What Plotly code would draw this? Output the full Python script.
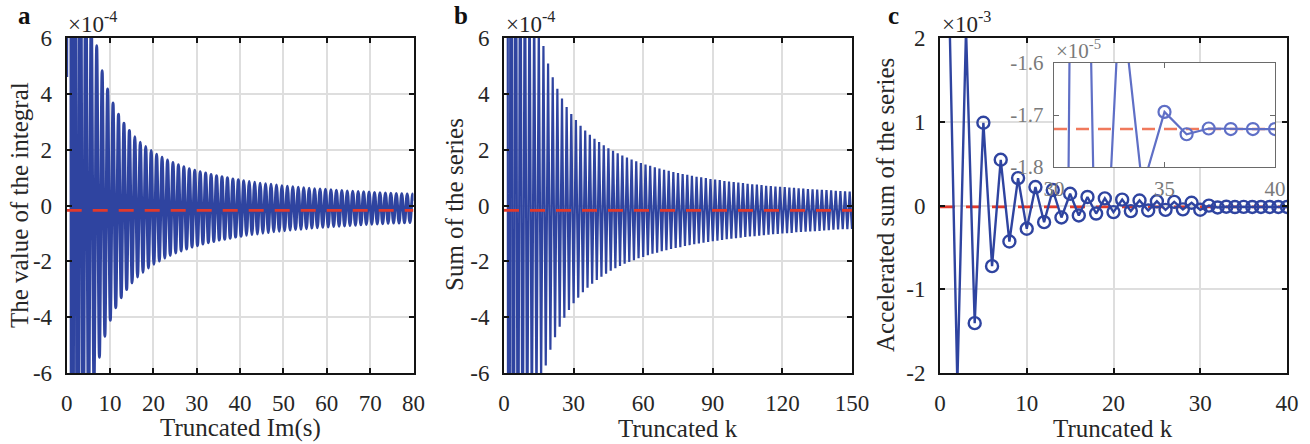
import plotly.graph_objects as go

# ---------------- DATA ----------------
# Panel a: truncated integral vs Im(s); extrema of the oscillation (units of 1e-4)
im_s_start, value_start = 0.0, 4.6
im_s_first_extremum = 0.637
im_s_half_period = 0.6283
integral_upper = [63.2, 21.2, 12.7, 9.04, 7.02, 5.72, 4.83, 4.17, 3.67, 3.27,
                  2.95, 2.69, 2.46, 2.27, 2.11, 1.97, 1.84, 1.73, 1.63, 1.54,
                  1.46, 1.39, 1.32, 1.26, 1.21, 1.16, 1.11, 1.07, 1.03, 0.99,
                  0.95, 0.92, 0.89, 0.86, 0.83, 0.80, 0.78, 0.76, 0.73, 0.71,
                  0.69, 0.67, 0.65, 0.64, 0.62, 0.60, 0.59, 0.58, 0.56, 0.55,
                  0.54, 0.52, 0.51, 0.50, 0.49, 0.48, 0.47, 0.46, 0.45, 0.44,
                  0.43, 0.42, 0.41, 0.41]
integral_lower = [-32.0, -16.1, -10.8, -8.10, -6.51, -5.44, -4.68, -4.11, -3.66, -3.30,
                  -3.01, -2.77, -2.56, -2.39, -2.24, -2.10, -1.99, -1.88, -1.79, -1.70,
                  -1.63, -1.56, -1.49, -1.44, -1.38, -1.33, -1.29, -1.24, -1.21, -1.17,
                  -1.13, -1.10, -1.07, -1.04, -1.02, -0.99, -0.97, -0.94, -0.92, -0.90,
                  -0.88, -0.86, -0.85, -0.83, -0.81, -0.80, -0.78, -0.77, -0.75, -0.74,
                  -0.73, -0.72, -0.71, -0.69, -0.68, -0.67, -0.66, -0.65, -0.64, -0.63,
                  -0.63, -0.62, -0.61]
im_s_end, value_end = 80.0, 0.17

# Panel b: partial sums of the series (units of 1e-4), odd k and even k
series_odd_k = [99.83, 33.16, 19.83, 14.12, 10.94, 8.92, 7.52, 6.50, 5.71, 5.09,
                4.59, 4.18, 3.83, 3.53, 3.28, 3.06, 2.86, 2.69, 2.53, 2.39,
                2.27, 2.16, 2.05, 1.96, 1.87, 1.79, 1.72, 1.65, 1.58, 1.52,
                1.47, 1.42, 1.37, 1.32, 1.28, 1.24, 1.20, 1.16, 1.13, 1.10,
                1.06, 1.03, 1.01, 0.98, 0.95, 0.93, 0.91, 0.88, 0.86, 0.84,
                0.82, 0.80, 0.78, 0.76, 0.75, 0.73, 0.71, 0.70, 0.68, 0.67,
                0.66, 0.64, 0.63, 0.62, 0.61, 0.59, 0.58, 0.57, 0.56, 0.55,
                0.54, 0.53, 0.52, 0.51, 0.50]
series_even_k = [-50.17, -25.17, -16.84, -12.67, -10.17, -8.50, -7.31, -6.42, -5.73, -5.17,
                 -4.72, -4.34, -4.02, -3.74, -3.50, -3.30, -3.11, -2.95, -2.80, -2.67,
                 -2.55, -2.44, -2.34, -2.25, -2.17, -2.09, -2.02, -1.96, -1.89, -1.84,
                 -1.78, -1.73, -1.69, -1.64, -1.60, -1.56, -1.52, -1.49, -1.45, -1.42,
                 -1.39, -1.36, -1.33, -1.31, -1.28, -1.26, -1.23, -1.21, -1.19, -1.17,
                 -1.15, -1.13, -1.11, -1.10, -1.08, -1.06, -1.05, -1.03, -1.02, -1.00,
                 -0.99, -0.98, -0.96, -0.95, -0.94, -0.93, -0.92, -0.91, -0.89, -0.88,
                 -0.87, -0.86, -0.85, -0.85, -0.84]

# Panel c: accelerated sums (units of 1e-3), k = 1..40
accel_k = list(range(1, 41))
accel_sum = [2.7, -2.12, 2.1, -1.405, 0.988, -0.724, 0.546, -0.43, 0.327, -0.278,
             0.22, -0.199, 0.185, -0.143, 0.14, -0.119, 0.102, -0.096, 0.085, -0.079,
             0.07, -0.067, 0.06, -0.06, 0.05, -0.052, 0.043, -0.046, 0.033, -0.051,
             -0.001, -0.023, -0.0145, -0.0184, -0.01694, -0.01737, -0.01726, -0.01727,
             -0.01727, -0.01727]

limit_value = -1.727e-5

# tick labels
ticks_a_x = [0, 10, 20, 30, 40, 50, 60, 70, 80]
ticks_b_x = [0, 30, 60, 90, 120, 150]
ticks_c_x = [0, 10, 20, 30, 40]
ticks_ab_y = [-6, -4, -2, 0, 2, 4, 6]
ticks_c_y = [-2, -1, 0, 1, 2]
ticks_in_x = [30, 35, 40]
ticks_in_y = [-1.8, -1.7, -1.6]

# ---------------- BUILD ----------------
n_ext = len(integral_upper) + len(integral_lower)
a_x = [im_s_start] + [round(im_s_first_extremum + im_s_half_period * j, 3) for j in range(n_ext)] + [im_s_end]
a_y = [value_start]
for j in range(n_ext):
    a_y.append(integral_upper[j // 2] if j % 2 == 0 else integral_lower[j // 2])
a_y.append(value_end)

b_k = list(range(1, 151))
b_y = []
for k in b_k:
    b_y.append(series_odd_k[(k - 1) // 2] if k % 2 == 1 else series_even_k[k // 2 - 1])

BLUE = "#2f44a0"
RED = "#e1392b"
FONT = "Liberation Serif"
W, H = 1310, 444
TICK_SIZE = 23
TITLE_SIZE = 25

fig = go.Figure()

fig.add_trace(go.Scatter(x=a_x, y=a_y, mode="lines", line=dict(color=BLUE, width=3, shape="spline"),
                         xaxis="x", yaxis="y", hoverinfo="skip"))
fig.add_trace(go.Scatter(x=[0, 80], y=[limit_value * 1e4] * 2, mode="lines",
                         line=dict(color=RED, width=2.8, dash="15px,11px"), xaxis="x", yaxis="y"))

fig.add_trace(go.Scatter(x=b_k, y=b_y, mode="lines", line=dict(color=BLUE, width=2.2),
                         xaxis="x2", yaxis="y2", hoverinfo="skip"))
fig.add_trace(go.Scatter(x=[0, 150], y=[limit_value * 1e4] * 2, mode="lines",
                         line=dict(color=RED, width=2.8, dash="15px,11px"), xaxis="x2", yaxis="y2"))

fig.add_trace(go.Scatter(x=[0, 40], y=[limit_value * 1e3] * 2, mode="lines",
                         line=dict(color=RED, width=2.8, dash="15px,11px"), xaxis="x3", yaxis="y3"))
fig.add_trace(go.Scatter(x=accel_k, y=accel_sum, mode="lines+markers",
                         line=dict(color=BLUE, width=2.4),
                         marker=dict(symbol="circle-open", size=12, color=BLUE, line=dict(width=2.4)),
                         xaxis="x3", yaxis="y3"))

INSET_BLUE = "#5f6fc6"
fig.add_trace(go.Scatter(x=[30, 40], y=[limit_value * 1e5] * 2, mode="lines",
                         line=dict(color="#f0795c", width=2.4, dash="13px,9px"), xaxis="x4", yaxis="y4"))
fig.add_trace(go.Scatter(x=accel_k, y=[v * 100 for v in accel_sum], mode="lines+markers",
                         line=dict(color=INSET_BLUE, width=2.2),
                         marker=dict(symbol="circle-open", size=12, color=INSET_BLUE, line=dict(width=2.2)),
                         xaxis="x4", yaxis="y4"))


def px_x(p):
    return p / W


def px_y(p):
    return 1 - p / H


top, bottom = 38, 373
common = dict(showline=True, linecolor="#141414", linewidth=2, mirror="ticks", ticks="inside",
              ticklen=5, tickwidth=1.6, tickcolor="#141414", showgrid=True, gridcolor="#dedede",
              gridwidth=1.5, zeroline=False, automargin=False,
              tickfont=dict(family=FONT, size=TICK_SIZE, color="#262626"))

inset_common = dict(showline=True, linecolor="#6a6a6a", linewidth=1.4, mirror="ticks", ticks="inside",
                    ticklen=5, tickwidth=1.2, tickcolor="#6a6a6a", showgrid=False, zeroline=False,
                    automargin=False, tickfont=dict(family=FONT, size=21, color="#7a7a7a"))

fig.update_layout(
    width=W, height=H, margin=dict(l=0, r=0, t=0, b=0, autoexpand=False), showlegend=False,
    paper_bgcolor="white", plot_bgcolor="white",
    xaxis=dict(domain=[px_x(66.7), px_x(413.5)], range=[0, 80], tickvals=ticks_a_x, anchor="y",
               ticklabelstandoff=8, **common),
    yaxis=dict(domain=[px_y(bottom), px_y(top)], range=[-6, 6], tickvals=ticks_ab_y,
               ticktext=[str(v) for v in ticks_ab_y], anchor="x", ticklabelstandoff=8, **common),
    xaxis2=dict(domain=[px_x(504), px_x(852)], range=[0, 150], tickvals=ticks_b_x, anchor="y2",
                ticklabelstandoff=8, **common),
    yaxis2=dict(domain=[px_y(bottom), px_y(top)], range=[-6, 6], tickvals=ticks_ab_y,
                ticktext=[str(v) for v in ticks_ab_y], anchor="x2", ticklabelstandoff=8, **common),
    xaxis3=dict(domain=[px_x(940), px_x(1287)], range=[0, 40], tickvals=ticks_c_x, anchor="y3",
                ticklabelstandoff=8, **common),
    yaxis3=dict(domain=[px_y(bottom), px_y(top)], range=[-2, 2], tickvals=ticks_c_y,
                ticktext=[str(v) for v in ticks_c_y], anchor="x3", ticklabelstandoff=8, **common),
    xaxis4=dict(domain=[px_x(1054), px_x(1275)], range=[30, 40], tickvals=ticks_in_x, anchor="y4",
                ticklabelstandoff=3, **inset_common),
    yaxis4=dict(domain=[px_y(167), px_y(63)], range=[-1.8, -1.6], tickvals=ticks_in_y,
                ticktext=[f"{v:.1f}" for v in ticks_in_y], anchor="x4",
                ticklabelstandoff=5, **inset_common),
)

ann = []
def add_text(x, y, text, size=20, color="#262626", angle=0, xanchor="center", yanchor="middle"):
    ann.append(dict(x=px_x(x), y=px_y(y), xref="paper", yref="paper", text=text, showarrow=False,
                    font=dict(family=FONT, size=size, color=color), textangle=angle,
                    xanchor=xanchor, yanchor=yanchor))

# panel letters
add_text(16, 16, "<b>a</b>", size=25, color="#111", xanchor="left")
add_text(452, 16, "<b>b</b>", size=25, color="#111", xanchor="left")
add_text(886, 16, "<b>c</b>", size=25, color="#111", xanchor="left")
# exponents
add_text(66, 22, "\u00d710<sup>-4</sup>", size=23, xanchor="left")
add_text(504, 22, "\u00d710<sup>-4</sup>", size=23, xanchor="left")
add_text(940, 22, "\u00d710<sup>-3</sup>", size=23, xanchor="left")
add_text(1054, 50, "\u00d710<sup>-5</sup>", size=21, color="#7a7a7a", xanchor="left")
# axis titles
add_text(240, 428, "Truncated Im(s)", size=TITLE_SIZE)
add_text(678, 428, "Truncated k", size=TITLE_SIZE)
add_text(1113, 428, "Truncated k", size=TITLE_SIZE)
add_text(19, 205, "The value of the integral", size=TITLE_SIZE, angle=-90)
add_text(454, 205, "Sum of the series", size=TITLE_SIZE, angle=-90)
add_text(885, 205, "Accelerated sum of the series", size=TITLE_SIZE, angle=-90)

fig.update_layout(annotations=ann)
fig.write_html("out.html", config={"displayModeBar": False},
               post_script="document.body.style.margin='0px';document.body.style.padding='0px';document.body.style.overflow='hidden';")
